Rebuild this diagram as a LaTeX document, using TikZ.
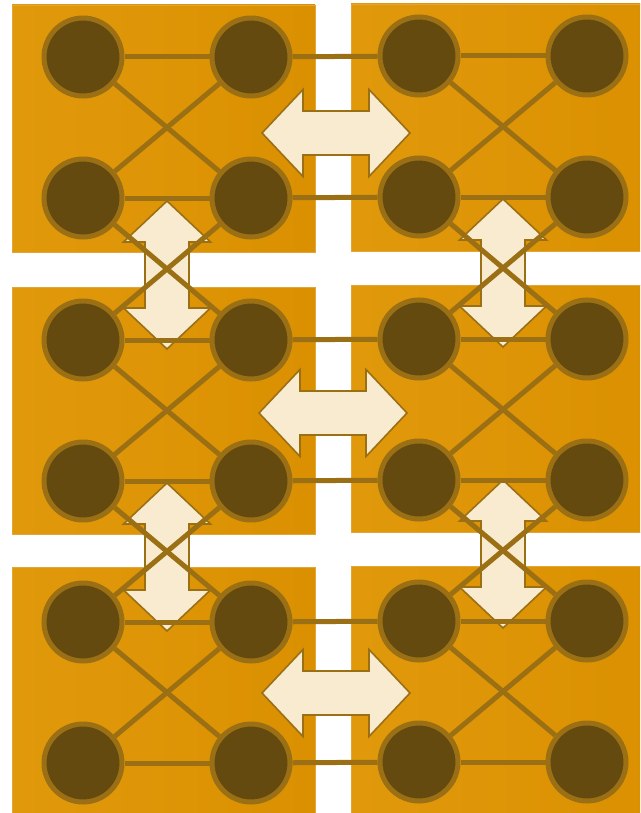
\documentclass[tikz,border=0pt]{standalone}
\definecolor{blockA}{HTML}{E1990C}
\definecolor{blockB}{HTML}{DA9000}
\definecolor{blockedge}{HTML}{E2A53A}
\definecolor{pefill}{HTML}{654A10}
\definecolor{wire}{HTML}{9B7014}
\definecolor{arrowfill}{HTML}{F8EBD0}
\tikzset{
  block/.style={left color=blockA,right color=blockB,draw=blockedge,line width=0.8pt},
  pe/.style={circle,fill=pefill,draw=wire,line width=5pt,minimum size=78pt,inner sep=0pt},
  link/.style={draw=wire,line width=5pt},
  arrowbox/.style={fill=arrowfill,draw=wire,line width=1.6pt,line join=miter},
  dblarrow/.pic={\path[arrowbox] (-74,0) -- (-33,-43.5) -- (-33,-22) -- (33,-22) -- (33,-43.5)
    -- (74,0) -- (33,43.5) -- (33,22) -- (-33,22) -- (-33,43.5) -- cycle;}
}
\begin{document}
\begin{tikzpicture}[x=1pt,y=-1pt]
\useasboundingbox (0,0) rectangle (640,813);
\clip (0,0) rectangle (640,813);
% boards
\foreach \tl/\tr in {5/4,287/285,567/566}{
  \path[block] (12,\tl) rectangle (315,{\tl+247});
  \path[block] (351,\tr) rectangle (660,{\tr+247});
}
% arrows between boards
\pic at (336,133) {dblarrow};
\pic at (333,413) {dblarrow};
\pic at (336,693) {dblarrow};
\pic[rotate=90] at (167,275) {dblarrow};
\pic[rotate=90] at (503,273) {dblarrow};
\pic[rotate=90] at (167,557) {dblarrow};
\pic[rotate=90] at (503,554) {dblarrow};
% processors
\foreach \r/\yl/\yr in {1/57/56,2/340/339,3/622/621}{
  \node[pe] (L\r a) at (83,\yl) {};
  \node[pe] (L\r b) at (251,\yl) {};
  \node[pe] (L\r c) at (83,{\yl+141}) {};
  \node[pe] (L\r d) at (251,{\yl+141}) {};
  \node[pe] (R\r a) at (419,\yr) {};
  \node[pe] (R\r b) at (587,\yr) {};
  \node[pe] (R\r c) at (419,{\yr+141}) {};
  \node[pe] (R\r d) at (587,{\yr+141}) {};
}
% links inside boards and across columns
\foreach \r in {1,2,3}{
  \foreach \s in {L,R}{
    \draw[link] (\s\r a) -- (\s\r b);
    \draw[link] (\s\r c) -- (\s\r d);
    \draw[link] (\s\r a) -- (\s\r d);
    \draw[link] (\s\r b) -- (\s\r c);
  }
  \draw[link] (L\r b) -- (R\r a);
  \draw[link] (L\r d) -- (R\r c);
}
% links between rows
\foreach \r/\n in {1/2,2/3}{
  \foreach \s in {L,R}{
    \draw[link] (\s\r c) -- (\s\n b);
    \draw[link] (\s\r d) -- (\s\n a);
  }
}
\end{tikzpicture}
\end{document}
